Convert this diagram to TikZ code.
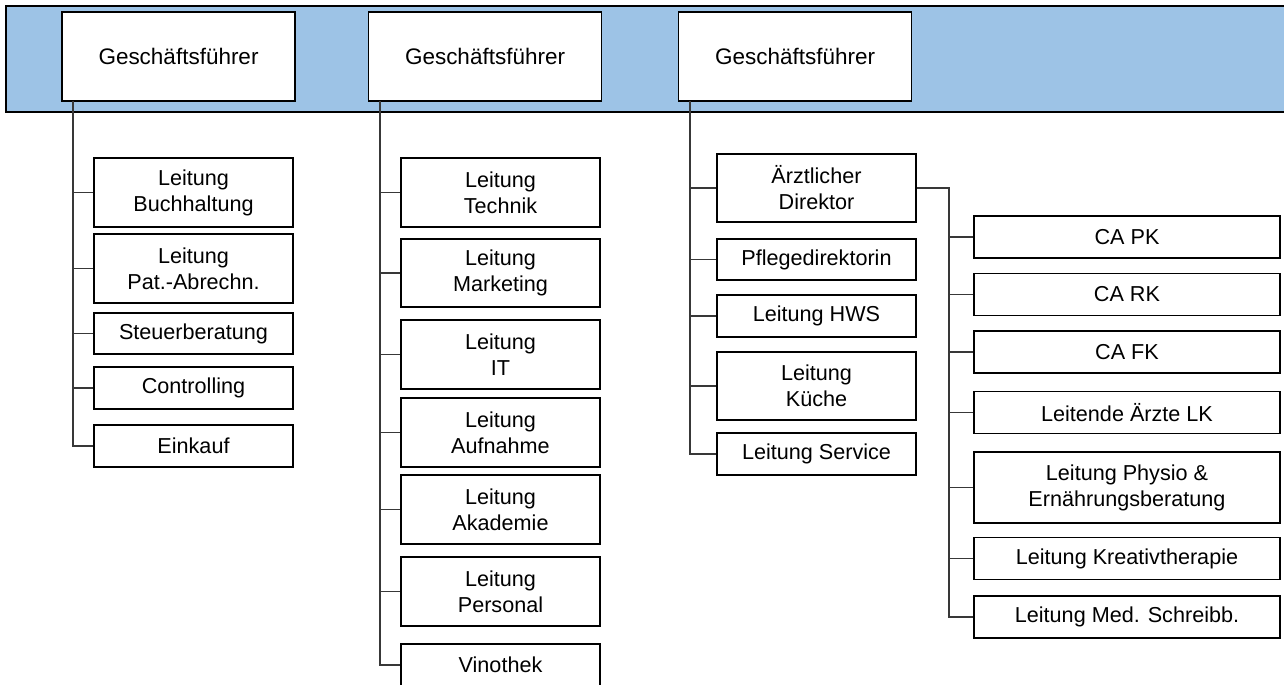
\documentclass[tikz,border=0pt]{standalone}
\usepackage{fontspec}
\setmainfont{Liberation Sans}
\definecolor{bandblue}{HTML}{9DC3E6}
\definecolor{linkgray}{HTML}{383838}
\tikzset{
  orgbox/.style={draw, line width=1.1pt, fill=white, align=center, inner sep=0pt, font=\fontsize{12.3}{14.8}\selectfont},
  gfbox/.style={orgbox, minimum width=4.66cm, minimum height=1.78cm, font=\fontsize{12.8}{15}\selectfont},
  unitbox/.style={orgbox, minimum width=3.98cm, minimum height=0.83cm},
  unitbox2/.style={unitbox, minimum height=1.37cm},
  widebox/.style={orgbox, minimum width=6.12cm, minimum height=0.84cm},
  linkline/.style={draw=linkgray, line width=0.65pt},
  bandline/.style={line width=1.4pt}
}

\begin{document}
\begin{tikzpicture}[x=0.02cm, y=-0.02cm]
  \useasboundingbox (0,0) rectangle (1284,684);
  \clip (0,0) rectangle (1284,684);

  % blue band
  \fill[bandblue] (6,6) rectangle (1300,112);
  \draw[bandline] (1300,6) -- (6,6) -- (6,112) -- (1300,112);

  % branch points
  \coordinate (t1) at (73,101);
  \coordinate (t2) at (380,101);
  \coordinate (t3) at (690,101);
  \coordinate (t4) at (949,188);

  % top row
  \node[gfbox] (gf1) at (178.5,56.5) {Geschäftsführer};
  \node[gfbox] (gf2) at (485,56.5) {Geschäftsführer};
  \node[gfbox] (gf3) at (795,56.5) {Geschäftsführer};

  % column 1
  \node[unitbox2] (buch) at (193.5,192.5) {Leitung\\Buchhaltung};
  \node[unitbox2] (pat) at (193.5,268.5) {Leitung\\Pat.-Abrechn.};
  \node[unitbox] (steuer) at (193.5,333.5) {Steuerberatung};
  \node[unitbox] (contr) at (193.5,388) {Controlling};
  \node[unitbox] (eink) at (193.5,446) {Einkauf};

  % column 2
  \node[unitbox2] (tech) at (500.5,192.5) {Leitung\\Technik};
  \node[unitbox2] (mark) at (500.5,273) {Leitung\\Marketing};
  \node[unitbox2] (it) at (500.5,354.5) {Leitung\\IT};
  \node[unitbox2] (aufn) at (500.5,432.5) {Leitung\\Aufnahme};
  \node[unitbox2] (akad) at (500.5,509.5) {Leitung\\Akademie};
  \node[unitbox2] (pers) at (500.5,591.5) {Leitung\\Personal};
  \node[unitbox] (vino) at (500.5,665) {Vinothek};

  % column 3
  \node[unitbox2] (arzt) at (816.5,188) {Ärztlicher\\Direktor};
  \node[unitbox] (pflege) at (816.5,259.5) {Pflegedirektorin};
  \node[unitbox] (hws) at (816.5,316) {Leitung HWS};
  \node[unitbox2] (kueche) at (816.5,386) {Leitung\\Küche};
  \node[unitbox] (serv) at (816.5,454) {Leitung Service};

  % column 4
  \node[widebox] (capk) at (1127,237) {CA PK};
  \node[widebox] (cark) at (1127,294.5) {CA RK};
  \node[widebox] (cafk) at (1127,352) {CA FK};
  \node[widebox] (laerzte) at (1127,412.5) {Leitende Ärzte LK};
  \node[widebox, minimum height=1.42cm] (physio) at (1127,487.5) {Leitung Physio \&\\Ernährungsberatung};
  \node[widebox] (kreativ) at (1127,558.5) {Leitung Kreativtherapie};
  \node[widebox] (schreib) at (1127,617) {Leitung Med. Schreibb.};

  % connectors
  \draw[linkline] (t1) |- (eink.west);
  \foreach \n in {buch,pat,steuer,contr}
    \draw[linkline] (t1 |- \n.west) -- (\n.west);
  \draw[linkline] (t2) |- (vino.west);
  \foreach \n in {tech,mark,it,aufn,akad,pers}
    \draw[linkline] (t2 |- \n.west) -- (\n.west);
  \draw[linkline] (t3) |- (serv.west);
  \foreach \n in {arzt,pflege,hws,kueche}
    \draw[linkline] (t3 |- \n.west) -- (\n.west);
  \draw[linkline] (arzt.east) -- (t4) |- (schreib.west);
  \foreach \n in {capk,cark,cafk,laerzte,physio,kreativ}
    \draw[linkline] (t4 |- \n.west) -- (\n.west);
\end{tikzpicture}
\end{document}
